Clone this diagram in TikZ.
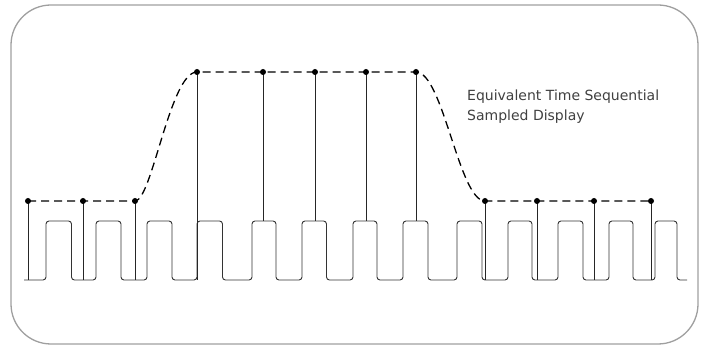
\documentclass[tikz,border=0pt]{standalone}
\usepackage{fontspec}
\setmainfont{DejaVu Sans}
\usetikzlibrary{calc}

\tikzset{
  frame/.style={draw=gray!75, line width=1.3pt, rounded corners=40pt},
  signal/.style={draw=black!80, line width=0.9pt, rounded corners=3pt},
  stem/.style={draw=black!85, line width=0.9pt},
  envelope/.style={draw=black, line width=1.3pt, dash pattern=on 8pt off 5pt},
  sample/.style={fill=black},
  caption/.style={font=\fontsize{14}{20}\selectfont, text=black!75, align=left, inner sep=0pt}
}

\begin{document}
\begin{tikzpicture}[x=1pt, y=-1pt]
        \useasboundingbox (0,0) rectangle (702,347);
        \path[frame] (11,5) rectangle (698,344);
        % pulse train
        \path[signal] (24,280)
          foreach \r/\f in {46/71.5, 96/121, 147/172, 197/222.5, 252/276, 302/326.5, 353/377, 403/428, 457/482, 508/532, 558/583, 609/633, 655/677}
          { -- (\r,280) -- (\r,221) -- (\f,221) -- (\f,280) } -- (687,280);
        % samples
        \foreach \n/\x/\y/\e in {1/28/201/280, 2/83/201/280, 3/135/201/280, 4/197/72/280, 5/263/72/221, 6/315/72/221, 7/366/72/221, 8/416/72/221, 9/485/201/280, 10/537/201/280, 11/594/201/280, 12/651/201/280}
        {
          \coordinate(S\n)at(\x,\y);
          \path[stem](S\n)to(\x,\e);
        }
        % dashed envelope
        \path[envelope](S1)--(S3) .. controls (152,201) and (170,72) .. (S4)--(S8) .. controls (443,72) and (459,201) .. (S9)--(S12);
        \foreach \n in {1,...,12}
          \fill[sample](S\n)circle[radius=3pt];
        % label
        \node[caption, anchor=base west](label)at(467,121){Equivalent Time Sequential\\Sampled Display};
    \end{tikzpicture}
\end{document}
